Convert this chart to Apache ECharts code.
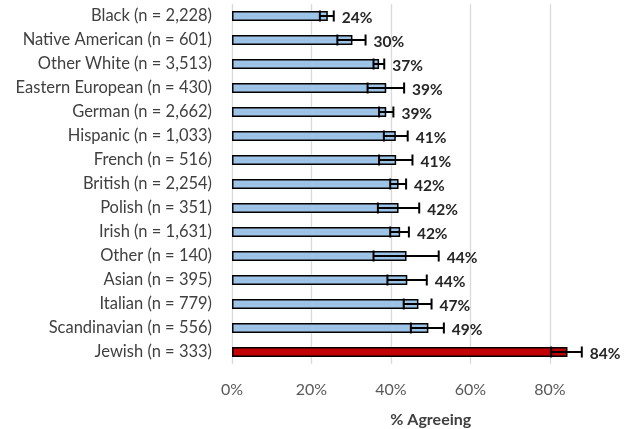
<!DOCTYPE html>
<html>
<head>
<meta charset="utf-8">
<script src="https://cdn.jsdelivr.net/npm/echarts@6/dist/echarts.min.js"></script>
<style>
  html, body { margin: 0; padding: 0; background: #fff; }
  #chart { width: 626px; height: 429px; }
</style>
</head>
<body>
<div id="chart"></div>
<script>
// groups, top to bottom
var categories = [
    'Black (n = 2,228)', 'Native American (n = 601)', 'Other White (n = 3,513)',
    'Eastern European (n = 430)', 'German (n = 2,662)', 'Hispanic (n = 1,033)',
    'French (n = 516)', 'British (n = 2,254)', 'Polish (n = 351)', 'Irish (n = 1,631)',
    'Other (n = 140)', 'Asian (n = 395)', 'Italian (n = 779)', 'Scandinavian (n = 556)',
    'Jewish (n = 333)'
];
// share agreeing, with lower / upper ends of the error bars
var agreeing = [0.241, 0.303, 0.370, 0.388, 0.388, 0.412, 0.413, 0.419, 0.419, 0.423, 0.439, 0.441, 0.469, 0.494, 0.844];
var lowerCI  = [0.221, 0.265, 0.356, 0.341, 0.370, 0.382, 0.370, 0.398, 0.367, 0.398, 0.356, 0.391, 0.432, 0.450, 0.803];
var upperCI  = [0.256, 0.336, 0.383, 0.433, 0.406, 0.442, 0.454, 0.438, 0.471, 0.445, 0.520, 0.490, 0.502, 0.533, 0.880];
var xTicks = [0, 0.2, 0.4, 0.6, 0.8];
var highlighted = 'Jewish (n = 333)';

var FONT = 'Lato';
var chart = echarts.init(document.getElementById('chart'));

var errData = categories.map(function (c, i) {
    return [lowerCI[i], upperCI[i], i, agreeing[i]];
});

var option = {
    animation: false,
    grid: { left: 232, top: 4, width: 397.5, height: 360, outerBoundsMode: 'none' },
    xAxis: {
        type: 'value',
        min: 0,
        max: 1,
        interval: 0.2,
        axisLine: { show: false },
        axisTick: { show: false },
        splitLine: { lineStyle: { color: '#d9d9d9', width: 1.3 } },
        axisLabel: {
            margin: 18,
            fontFamily: FONT,
            fontSize: 16,
            color: '#595959',
            formatter: function (v) {
                return xTicks.indexOf(Math.round(v * 10) / 10) >= 0 ? Math.round(v * 100) + '%' : '';
            }
        },
        name: '% Agreeing',
        nameLocation: 'middle',
        nameGap: 48,
        nameTextStyle: { fontFamily: FONT, fontSize: 16, fontWeight: 'bold', color: '#404040' }
    },
    yAxis: {
        type: 'category',
        inverse: true,
        data: categories,
        axisLine: { show: false },
        axisTick: { show: false },
        axisLabel: { margin: 20, padding: [3, 0, 0, 0], fontFamily: FONT, fontSize: 16.5, color: '#404040' }
    },
    series: [{
        type: 'bar',
        data: agreeing,
        barWidth: 10,
        itemStyle: {
            borderColor: '#000',
            borderWidth: 1.5,
            color: function (p) {
                return categories[p.dataIndex] === highlighted ? '#c00000' : '#9dc3e6';
            }
        }
    }, {
        type: 'custom',
        z: 5,
        data: errData,
        encode: { x: [0, 1], y: 2 },
        renderItem: function (params, api) {
            var lo = api.coord([api.value(0), api.value(2)]);
            var hi = api.coord([api.value(1), api.value(2)]);
            var h = 5.5;
            var st = { stroke: '#000', lineWidth: 2 };
            return {
                type: 'group',
                children: [
                    { type: 'line', shape: { x1: lo[0], y1: lo[1], x2: hi[0], y2: hi[1] }, style: st },
                    { type: 'line', shape: { x1: lo[0], y1: lo[1] - h, x2: lo[0], y2: lo[1] + h }, style: st },
                    { type: 'line', shape: { x1: hi[0], y1: hi[1] - h, x2: hi[0], y2: hi[1] + h }, style: st },
                    {
                        type: 'text',
                        style: {
                            text: Math.round(api.value(3) * 100) + '%',
                            x: hi[0] + 8,
                            y: hi[1] + 2,
                            verticalAlign: 'middle',
                            fontFamily: FONT,
                            fontSize: 15.5,
                            fontWeight: 'bold',
                            fill: '#262626'
                        }
                    }
                ]
            };
        }
    }]
};

chart.setOption(option);
</script>
</body>
</html>
